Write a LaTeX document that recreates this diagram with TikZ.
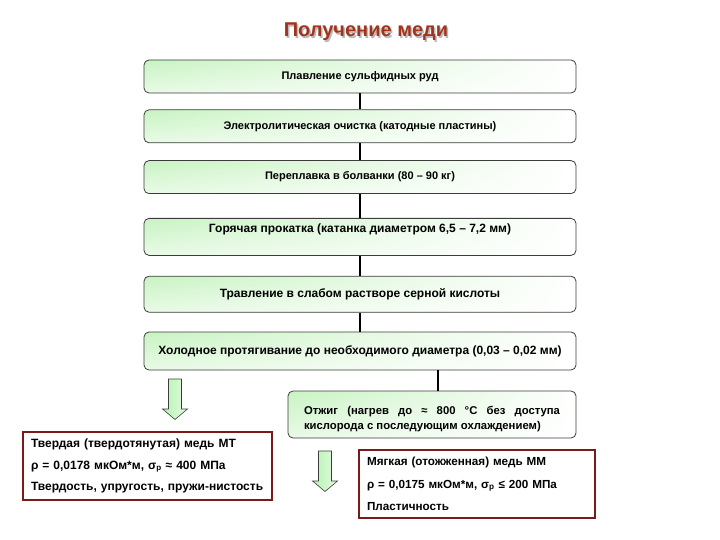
\documentclass[tikz,border=0pt]{standalone}
\usepackage{fontspec}
\setmainfont{Liberation Sans}
\usetikzlibrary{positioning,shadings}
\definecolor{copper}{RGB}{160,52,28}
\definecolor{frame}{RGB}{122,26,26}
\definecolor{mint}{RGB}{200,243,194}
\definecolor{edge}{RGB}{60,60,60}

\begin{document}
\begin{tikzpicture}[x=1pt, y=-1pt,
						stage/.style={rectangle, rounded corners=5pt, draw=edge, line width=0.8pt, upper left=mint, upper right=white, lower left=mint!40, lower right=white, minimum width=432pt, inner sep=0pt, font=\fontsize{12}{15}\selectfont\bfseries},
						small/.style={font=\fontsize{11}{15}\selectfont\bfseries},
						result/.style={rectangle, draw=frame, line width=2.6pt, fill=white, minimum height=68pt, align=left, inner xsep=8pt, font=\fontsize{12}{21.5}\selectfont\bfseries},
						link/.style={line width=1.6pt, draw=black},
						headline/.style={font=\fontsize{20}{22}\selectfont\bfseries},
						fatarrow/.pic={\path[draw=edge, line width=0.6pt, left color=mint!90!green, right color=mint!45] (-6.5,0) -- (6.5,0) -- (6.5,30) -- (12.5,30) -- (0,40.5) -- (-12.5,30) -- (-6.5,30) -- cycle;}
					]
					\useasboundingbox (0,0) rectangle (720,540);
					\node[headline, text=gray!55] (titleshade) at (367.5,33.5) {Получение меди};
					\node[headline, text=copper] (title) at (366,32) {Получение меди};
					\node[stage, small, minimum height=33pt] (smelt) at (360,76.5) {Плавление сульфидных руд};
					\node[stage, small, minimum height=33pt] (refine) [below=16pt of smelt] {Электролитическая очистка (катодные пластины)};
					\node[stage, small, minimum height=33pt] (remelt) [below=17pt of refine] {Переплавка в болванки (80 – 90 кг)};
					\node[stage, minimum height=37pt, text depth=17pt] (hotroll) [below=24pt of remelt] {Горячая прокатка (катанка диаметром 6,5 – 7,2 мм)};
					\node[stage, minimum height=36pt] (pickle) [below=20pt of hotroll] {Травление в слабом растворе серной кислоты};
					\node[stage, minimum height=38pt] (colddraw) [below=19pt of pickle] {Холодное протягивание до необходимого диаметра (0,03 – 0,02 мм)};
					\node[stage, minimum width=288pt, minimum height=47pt, text width=256pt, align=justify, text height=16.5pt, font=\fontsize{11.3}{15}\selectfont\bfseries] (anneal) at (432,414.5) {Отжиг (нагрев до ≈ 800 °C без доступа\linebreak кислорода с последующим охлаждением)};
					\node[result, minimum width=249pt, text width=233pt] (hard) at (147.5,466) {Твердая (твердотянутая) медь МТ\\ρ = 0,0178 мкОм*м, σ\textsubscript{р} ≈ 400 МПа\\Твердость, упругость, пружи-нистость};
					\node[result, minimum width=236pt, text width=220pt, font=\fontsize{11.7}{22.5}\selectfont\bfseries] (soft) at (477,484) {Мягкая (отожженная) медь ММ\\ρ = 0,0175 мкОм*м, σ\textsubscript{р} ≤ 200 МПа\\Пластичность};
					\pic (hardarrow) at (175,379) {fatarrow};
					\pic (softarrow) at (325,451) {fatarrow};
					\draw[link] (smelt.south) -- (refine.north);
					\draw[link] (refine.south) -- (remelt.north);
					\draw[link] (remelt.south) -- (hotroll.north);
					\draw[link] (hotroll.south) -- (pickle.north);
					\draw[link] (pickle.south) -- (colddraw.north);
					\draw[link] ([xshift=6pt]anneal.north |- colddraw.south) -- ([xshift=6pt]anneal.north);
					\end{tikzpicture}
\end{document}
